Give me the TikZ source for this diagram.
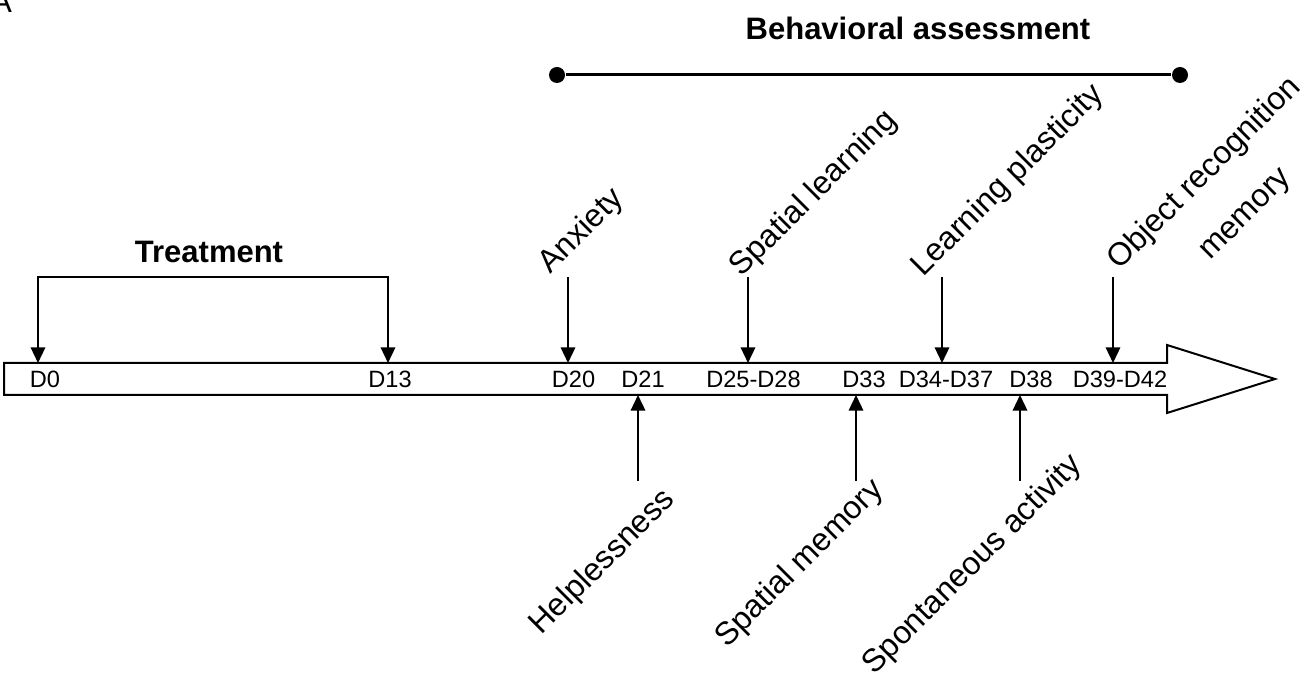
\documentclass[tikz,border=0pt]{standalone}
\usepackage{fontspec}
\setmainfont{Liberation Sans}
\usetikzlibrary{arrows.meta}

\tikzset{
  pointer/.style={-{Triangle[width=7.2pt,length=7.8pt]}},
  twopointer/.style={{Triangle[width=7.2pt,length=7.8pt]}-{Triangle[width=7.2pt,length=7.8pt]}},
  day/.style={font=\fontsize{11.8}{13}\selectfont, anchor=base, inner sep=0pt},
  test/.style={font=\fontsize{16}{19}\selectfont, rotate=45, inner sep=0pt},
  title/.style={font=\fontsize{15.5}{18}\selectfont\bfseries, anchor=base, inner sep=0pt},
  dot/.style={circle, fill, inner sep=0pt, minimum size=8pt},
}

\begin{document}
\begin{tikzpicture}[x=0.5pt, y=-0.5pt, line width=1pt]
    \useasboundingbox (0, 0) rectangle (1312, 683);

    \node[font=\fontsize{16}{19}\selectfont, anchor=base east, inner sep=0pt] (panel) at (13, 13) {A};

    \draw (4, 363) -- (1167, 363) -- (1167, 345) -- (1275, 379) -- (1167, 413) -- (1167, 395) -- (4, 395) -- cycle;

    \coordinate (t0) at (38, 363);
    \coordinate (t13) at (388, 363);
    \coordinate (brk) at (213, 277);
    \draw[twopointer] (t0) |- (brk) -| (t13);
    \node[title] (treat) at (209, 263) {Treatment};

    \node[dot] (bl) at (557, 75) {};
    \node[dot] (br) at (1180, 75) {};
    \draw[line width=1.5pt] (bl) -- (br);
    \node[title] (behav) at (918, 40) {Behavioral assessment};

    \coordinate (s20) at (568, 277);
    \coordinate (t20) at (568, 363);
    \coordinate (s25) at (748, 277);
    \coordinate (t25) at (748, 363);
    \coordinate (s34) at (942, 277);
    \coordinate (t34) at (942, 363);
    \coordinate (s39) at (1113, 277);
    \coordinate (t39) at (1113, 363);
    \draw[pointer] (s20) -- (t20);
    \draw[pointer] (s25) -- (t25);
    \draw[pointer] (s34) -- (t34);
    \draw[pointer] (s39) -- (t39);

    \coordinate (s21) at (638, 481);
    \coordinate (t21) at (638, 395);
    \coordinate (s33) at (856, 481);
    \coordinate (t33) at (856, 395);
    \coordinate (s38) at (1020, 481);
    \coordinate (t38) at (1020, 395);
    \draw[pointer] (s21) -- (t21);
    \draw[pointer] (s33) -- (t33);
    \draw[pointer] (s38) -- (t38);

    \node[day] (d0) at (45, 388) {D0};
    \node[day] (d13) at (390, 388) {D13};
    \node[day] (d20) at (573.5, 388) {D20};
    \node[day] (d21) at (643, 388) {D21};
    \node[day] (d25) at (753.5, 388) {D25-D28};
    \node[day] (d33) at (864, 388) {D33};
    \node[day] (d34) at (946, 388) {D34-D37};
    \node[day] (d38) at (1031, 388) {D38};
    \node[day] (d39) at (1120, 388) {D39-D42};

    \node[test] (anx) at (582, 231.5) {Anxiety};
    \node[test] (spl) at (814, 194) {Spatial learning};
    \node[test] (lpl) at (1008, 181) {Learning plasticity};
    \node[test, align=center] (orm) at (1225, 194) {Object recognition\\[9.5pt]memory};

    \node[test] (hlp) at (603, 562.5) {Helplessness};
    \node[test] (spm) at (800, 564) {Spatial memory};
    \node[test] (spa) at (973, 565) {Spontaneous activity};
\end{tikzpicture}
\end{document}
